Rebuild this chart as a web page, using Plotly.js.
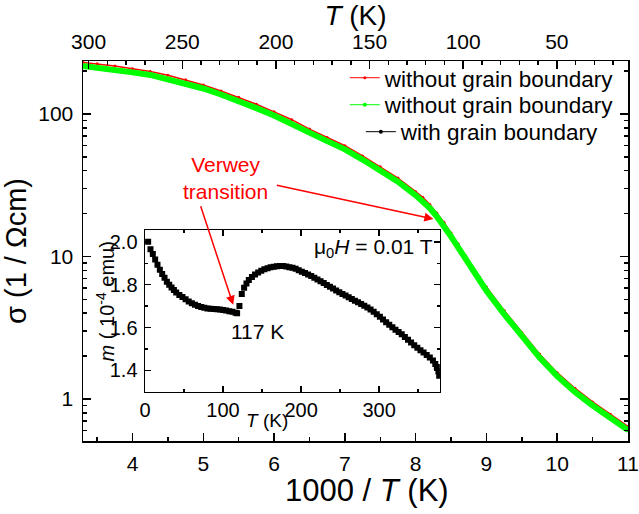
<!DOCTYPE html>
<html>
<head>
<meta charset="utf-8">
<script src="https://cdn.plot.ly/plotly-3.0.1.min.js"></script>
<style>
html,body{margin:0;padding:0;background:#fff;}
#chart{width:639px;height:514px;}
.legendlines path{stroke-width:1px !important;}
</style>
</head>
<body>
<div id="chart"></div>
<script>
// Main panel: conductivity vs 1000/T
const invT = [3.3, 3.5, 3.75, 4.0, 4.25, 4.5, 4.75, 5.0, 5.25, 5.5, 5.75, 6.0, 6.25, 6.5, 6.75, 7.0, 7.25, 7.5, 7.75, 8.0, 8.1, 8.2, 8.3, 8.4, 8.5, 8.6, 8.7, 8.8, 8.9, 9.0, 9.25, 9.5, 9.75, 10.0, 10.25, 10.5, 10.75, 11.0];
const sigmaGreen = [217, 212, 205, 196, 188, 176, 164, 151, 137, 124, 110, 97.6, 86, 74, 64.5, 56.5, 47.9, 40.3, 33.5, 26.9, 24.5, 21.9, 19.05, 16.4, 13.8, 11.6, 9.66, 8.04, 6.76, 5.75, 3.94, 2.75, 1.95, 1.445, 1.12, 0.90, 0.736, 0.605];
const sigmaRed = [230, 225, 217, 208, 199, 187, 174, 160, 145, 131, 117, 103.5, 91.2, 78.4, 68.4, 59.9, 50.8, 42.7, 35.5, 28.5, 26.0, 23.2, 20.2, 17.4, 14.6, 12.3, 10.2, 8.52, 7.17, 6.1, 4.18, 2.92, 2.07, 1.53, 1.19, 0.954, 0.78, 0.641];
const sigmaBlack = [216, 211, 204, 195, 187, 175, 163, 150, 136, 123, 109, 97.1, 85.6, 73.6, 64.2, 56.2, 47.7, 40.1, 33.3, 26.8, 24.4, 21.8, 18.95, 16.3, 13.7, 11.55, 9.61, 8.0, 6.73, 5.72, 3.92, 2.74, 1.94, 1.44, 1.115, 0.896, 0.733, 0.602];
const seriesNames = ["without grain boundary", "without grain boundary", "with grain boundary"];

// Inset: magnetic moment vs T
const insetT = [4, 7, 10, 13, 16, 19, 22, 25, 28, 31, 34, 37, 40, 44, 48, 52, 56, 60, 64, 68, 72, 76, 80, 84, 88, 92, 96, 100, 104, 108, 112, 116, 118, 121, 124, 127, 130, 133, 137, 141, 145, 149, 153, 157, 161, 165, 169, 173, 177, 181, 185, 189, 193, 197, 201, 205, 209, 213, 217, 221, 225, 229, 233, 237, 241, 245, 249, 253, 257, 261, 265, 269, 273, 277, 281, 285, 289, 293, 297, 301, 305, 309, 313, 317, 321, 325, 329, 333, 337, 341, 345, 349, 353, 357, 361, 365, 369, 372, 374, 376, 377];
const insetM = [2.000, 1.965, 1.943, 1.918, 1.893, 1.870, 1.850, 1.832, 1.814, 1.800, 1.787, 1.775, 1.763, 1.752, 1.742, 1.732, 1.722, 1.713, 1.706, 1.700, 1.696, 1.692, 1.689, 1.687, 1.686, 1.685, 1.684, 1.682, 1.679, 1.676, 1.673, 1.669, 1.667, 1.700, 1.756, 1.786, 1.806, 1.822, 1.836, 1.847, 1.857, 1.865, 1.872, 1.877, 1.881, 1.884, 1.886, 1.887, 1.887, 1.885, 1.882, 1.879, 1.874, 1.867, 1.861, 1.855, 1.848, 1.840, 1.832, 1.824, 1.816, 1.808, 1.799, 1.790, 1.782, 1.773, 1.765, 1.757, 1.749, 1.741, 1.733, 1.725, 1.718, 1.710, 1.702, 1.694, 1.684, 1.674, 1.662, 1.650, 1.637, 1.624, 1.613, 1.601, 1.590, 1.579, 1.568, 1.556, 1.543, 1.530, 1.517, 1.505, 1.494, 1.483, 1.472, 1.460, 1.446, 1.430, 1.415, 1.395, 1.375];

// Tick labels
const xTicks = [4, 5, 6, 7, 8, 9, 10, 11];
const topTicks = [300, 250, 200, 150, 100, 50];
const yTicks = [1, 10, 100];
const yTickText = ["1", "10", "100"];
const yMinor = [0.5, 0.6, 0.7, 0.8, 0.9, 2, 3, 4, 5, 6, 7, 8, 9, 20, 30, 40, 50, 60, 70, 80, 90, 200];
const insetXTicks = [0, 100, 200, 300];
const insetYTicks = [1.4, 1.6, 1.8, 2.0];
const insetYText = ["1.4", "1.6", "1.8", "2.0"];

const FONT = "Liberation Sans, Arial, Helvetica, sans-serif";

const traces = [
  {x: invT, y: sigmaBlack, name: seriesNames[2], mode: "lines+markers", type: "scatter",
   line: {color: "#000000", width: 3}, marker: {color: "#000000", size: 4}, legend: "legend3", xaxis: "x", yaxis: "y"},
  {x: invT, y: sigmaRed, name: seriesNames[0], mode: "lines+markers", type: "scatter",
   line: {color: "#ff0000", width: 1.5}, marker: {color: "#ff0000", size: 3}, legend: "legend", xaxis: "x", yaxis: "y"},
  {x: invT, y: sigmaGreen, name: seriesNames[1], mode: "lines+markers", type: "scatter",
   line: {color: "#00ff00", width: 6}, marker: {color: "#00ff00", size: 4}, legend: "legend2", xaxis: "x", yaxis: "y"},
  {x: insetT, y: insetM, mode: "markers", type: "scatter", showlegend: false,
   marker: {symbol: "square", color: "#000000", size: 6}, xaxis: "x3", yaxis: "y3"},
  // carrier for the top temperature axis (no visible marks)
  {x: topTicks, y: topTicks.map(() => null), mode: "markers", type: "scatter", showlegend: false,
   hoverinfo: "skip", marker: {opacity: 0}, xaxis: "x2", yaxis: "y"}
];

const axisCommon = {showline: true, linecolor: "#000", linewidth: 1.5, ticks: "inside", tickcolor: "#000",
  tickwidth: 1.5, showgrid: false, zeroline: false, tickfont: {family: FONT, size: 21, color: "#000"}};

const legendCommon = {xanchor: "right", yanchor: "middle", bgcolor: "rgba(0,0,0,0)", borderwidth: 0,
  font: {family: FONT, size: 22.5, color: "#000"}, itemwidth: 30, tracegroupgap: 0};

const layout = {
  width: 639, height: 514,
  margin: {l: 83, r: 11, t: 61, b: 73},
  paper_bgcolor: "#fff", plot_bgcolor: "#fff",
  font: {family: FONT, color: "#000"},
  xaxis: Object.assign({}, axisCommon, {
    range: [3.3, 11], tickmode: "array", tickvals: xTicks, ticklen: 8, ticklabelstandoff: 3,
    minor: {tickmode: "linear", tick0: 3.5, dtick: 1, ticks: "inside", ticklen: 4, tickwidth: 1.5, tickcolor: "#000"},
    automargin: false
  }),
  xaxis2: Object.assign({}, axisCommon, {
    overlaying: "x", side: "top", anchor: "y",
    range: [303, 12], tickmode: "array", tickvals: topTicks, ticklen: 8, ticklabelstandoff: 2,
    minor: {tickmode: "linear", tick0: 0, dtick: 10, ticks: "inside", ticklen: 4, tickwidth: 1.5, tickcolor: "#000"},
    title: {text: "<i>T</i> (K)", font: {family: FONT, size: 28, color: "#000"}, standoff: 4},
    automargin: false
  }),
  yaxis: Object.assign({}, axisCommon, {
    type: "log", range: [-0.295, 2.372], tickmode: "array", tickvals: yTicks, ticktext: yTickText,
    ticklen: 8, mirror: "ticks", ticklabelstandoff: 4,
    minor: {tickmode: "array", tickvals: yMinor, ticks: "inside", ticklen: 4, tickwidth: 1.5, tickcolor: "#000"},
    title: {text: "σ (1 / Ωcm)", font: {family: FONT, size: 29, color: "#000"}, standoff: 6},
    automargin: false
  }),
  xaxis3: Object.assign({}, axisCommon, {
    domain: [0.1138, 0.655], anchor: "y3", range: [0, 378], tickmode: "array", tickvals: insetXTicks,
    ticklen: 6, mirror: "ticks", ticklabelstandoff: 0,
    tickfont: {family: FONT, size: 20, color: "#000"},
    minor: {tickmode: "linear", tick0: 50, dtick: 100, ticks: "inside", ticklen: 3, tickwidth: 1.5, tickcolor: "#000"},
    automargin: false
  }),
  yaxis3: Object.assign({}, axisCommon, {
    domain: [0.1297, 0.555], anchor: "x3", range: [1.30, 2.055], tickmode: "array", tickvals: insetYTicks, ticktext: insetYText,
    ticklen: 6, mirror: "ticks", ticklabelstandoff: 2,
    tickfont: {family: FONT, size: 20, color: "#000"},
    minor: {tickmode: "linear", tick0: 1.3, dtick: 0.2, ticks: "inside", ticklen: 3, tickwidth: 1.5, tickcolor: "#000"},
    automargin: false
  }),
  legend: Object.assign({}, legendCommon, {x: 0.985, y: 0.955}),
  legend2: Object.assign({}, legendCommon, {x: 0.985, y: 0.884}),
  legend3: Object.assign({}, legendCommon, {x: 0.9575, y: 0.813}),
  annotations: [
    {xref: "paper", yref: "paper", x: 0.521, y: -0.129, xanchor: "center", yanchor: "middle",
     text: "1000 / <i>T</i> (K)", showarrow: false, font: {family: FONT, size: 31, color: "#000"}},
    {xref: "paper", yref: "paper", x: 0.2606, y: 0.692, xanchor: "center", yanchor: "middle",
     text: "Verwey<br>transition", showarrow: false,
     font: {family: FONT, size: 21, color: "#ff0000"}, align: "center"},
    {xref: "x", yref: "y", x: 8.25, y: 1.263, ax: -158, ay: -34, text: "", showarrow: true,
     arrowcolor: "#ff0000", arrowwidth: 1.5, arrowhead: 2, arrowsize: 1.2},
    {xref: "x3", yref: "y3", x: 113, y: 1.706, ax: -33, ay: -100, text: "", showarrow: true,
     arrowcolor: "#ff0000", arrowwidth: 1.5, arrowhead: 2, arrowsize: 1.2},
    {xref: "x3", yref: "y3", x: 144, y: 1.58, xanchor: "center", yanchor: "middle", text: "117 K", showarrow: false,
     font: {family: FONT, size: 21, color: "#000"}},
    {xref: "x3", yref: "y3", x: 372, y: 1.97, xanchor: "right", yanchor: "middle",
     text: "μ<sub>0</sub><i>H</i> = 0.01 T", showarrow: false,
     font: {family: FONT, size: 21, color: "#000"}},
    {xref: "x3 domain", yref: "y3 domain", x: 0.415, y: -0.18, xanchor: "center", yanchor: "middle",
     text: "<i>T</i> (K)", showarrow: false, font: {family: FONT, size: 19, color: "#000"}},
    {xref: "x3 domain", yref: "y3 domain", x: -0.135, y: 0.56, xanchor: "center", yanchor: "middle", textangle: -90,
     text: "<i>m</i> ( 10<sup>-4</sup> emu)", showarrow: false, font: {family: FONT, size: 20, color: "#000"}}
  ],
  showlegend: true
};

Plotly.newPlot("chart", traces, layout, {displayModeBar: false, staticPlot: true});
</script>
</body>
</html>
